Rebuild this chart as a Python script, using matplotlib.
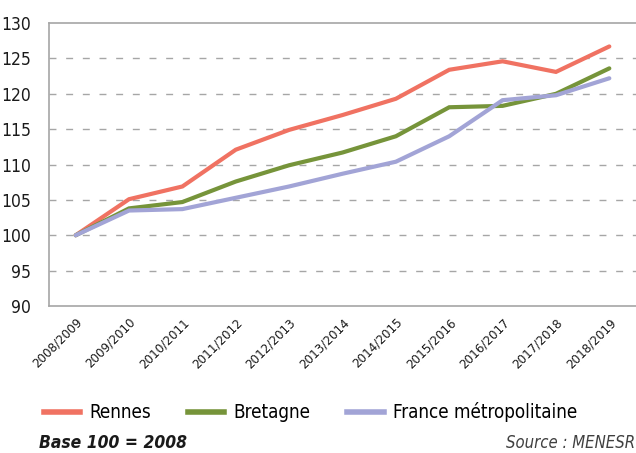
import matplotlib
matplotlib.use("Agg")
import matplotlib.pyplot as plt
from matplotlib.lines import Line2D
from matplotlib.transforms import ScaledTranslation

categories = ["2008/2009", "2009/2010", "2010/2011", "2011/2012", "2012/2013",
              "2013/2014", "2014/2015", "2015/2016", "2016/2017", "2017/2018", "2018/2019"]
rennes = [100, 105.1, 106.9, 112.1, 114.9, 117.0, 119.3, 123.4, 124.6, 123.1, 126.7]
bretagne = [100, 103.8, 104.7, 107.6, 109.9, 111.7, 114.0, 118.1, 118.3, 120.0, 123.6]
france = [100, 103.5, 103.7, 105.3, 106.9, 108.7, 110.4, 114.0, 119.1, 119.8, 122.2]
series_names = ["Rennes", "Bretagne", "France métropolitaine"]
yticks = [90, 95, 100, 105, 110, 115, 120, 125, 130]

colors = ["#F07262", "#76943A", "#A2A4D6"]
plt.rcParams['font.family'] = ["DejaVu Sans"]
plt.rcParams['font.stretch'] = 'condensed'

fig = plt.figure(figsize=(6.36, 4.53), dpi=100)
ax = fig.add_axes([0.077, 0.3245, 0.923, 0.6245])

x = list(range(len(categories)))
for vals, c in zip([rennes, bretagne, france], colors):
    ax.plot(x, vals, color=c, lw=3.0, solid_capstyle='round', solid_joinstyle='miter')

ax.set_xlim(-0.5, len(categories) - 0.5)
ax.set_ylim(90, 130)
ax.set_yticks(yticks)
ax.set_yticklabels([str(v) for v in yticks], fontsize=12.5, color="#1a1a1a")
ax.set_xticks(x)
ax.set_xticklabels(categories, rotation=45, ha='right', rotation_mode='anchor',
                   fontsize=9.5, color="#1a1a1a")
off = ScaledTranslation(5 / 72, -3 / 72, fig.dpi_scale_trans)
for lbl in ax.get_xticklabels():
    lbl.set_transform(lbl.get_transform() + off)
ax.tick_params(axis='y', length=0, pad=13)
ax.tick_params(axis='x', length=0, pad=7)
for yv in yticks[1:-1]:
    ax.axhline(yv, color="#a6a6a6", lw=1, ls=(0, (5, 7)), zorder=0)
for s in ['left', 'top', 'bottom']:
    ax.spines[s].set_color("#a6a6a6")
    ax.spines[s].set_linewidth(1.2)
ax.spines['right'].set_visible(False)

handles = [Line2D([0], [0], color=c, lw=4) for c in colors]
fig.legend(handles, series_names, loc='center left', bbox_to_anchor=(0.042, 0.09),
           ncol=3, frameon=False, fontsize=13.5, handlelength=1.95, handletextpad=0.5,
           columnspacing=1.95)

fig.text(0.062, 0.022, "Base 100 = 2008", fontsize=12.5, fontweight='bold', style='italic',
         ha='left', va='center', color="#1a1a1a")
fig.text(0.998, 0.022, "Source : MENESR", fontsize=12, style='italic',
         ha='right', va='center', color="#404040")

fig.savefig("out.png", dpi=100)
